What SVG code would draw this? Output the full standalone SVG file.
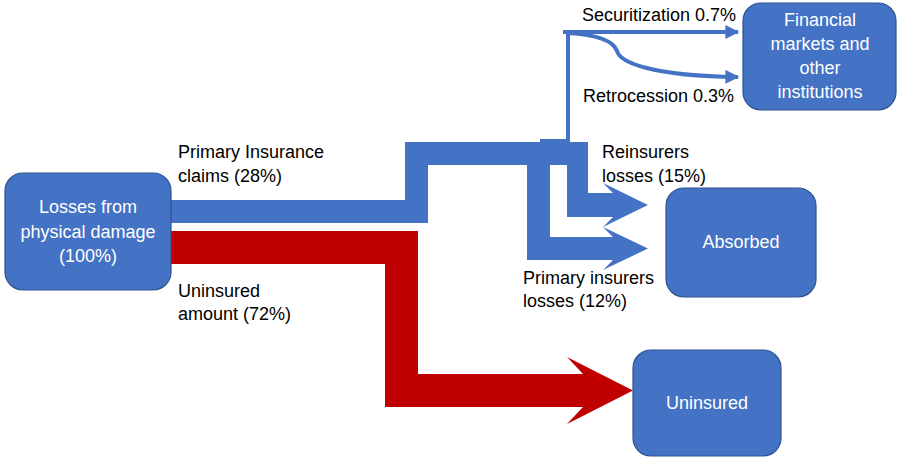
<svg xmlns="http://www.w3.org/2000/svg" width="899" height="457" viewBox="0 0 899 457">
<defs>
<style>
.node{fill:#4472C4;stroke:#2F528F;stroke-width:1.2}
.nt{font-family:"Liberation Sans",Arial,sans-serif;font-size:18px;fill:#FFFFFF;text-anchor:middle}
.lbl{font-family:"Liberation Sans",Arial,sans-serif;font-size:18px;fill:#000000}
.blue{fill:#4472C4}
.red{fill:#C00000}
.thin{fill:none;stroke:#4472C4;stroke-width:4}
</style>
<marker id="ah" viewBox="0 0 10 10" refX="9" refY="5" markerWidth="4.5" markerHeight="3.5" markerUnits="strokeWidth" orient="auto">
<path d="M0,0 L10,5 L0,10 z" fill="#4472C4"/>
</marker>
</defs>
<g id="connectors">
<!-- red uninsured flow -->
<path class="red" d="M171,231 L418,231 L418,374 L583,374 L567,357 L633,390.5 L567,424 L583,407 L385,407 L385,264 L171,264 Z"/>
<!-- blue primary insurance flow -->
<path class="blue" d="M171,200 L405,200 L405,142 L588,142 L588,193 L613,193 L603,183 L648,205 L603,227 L613,217 L567,217 L567,165 L550,165 L550,237 L613,237 L603,227 L648,248.5 L603,270 L613,260 L527,260 L527,165 L428,165 L428,223 L171,223 Z"/>
<rect class="blue" x="540" y="139" width="27" height="4"/>
<!-- thin lines to financial markets -->
<path class="thin" d="M568,142 L568,32"/>
<path class="thin" d="M563,32 L738,32" marker-end="url(#ah)"/>
<path class="thin" d="M568,33 C600,35 614,42 617,51 C620,62 650,76 738,77" marker-end="url(#ah)"/>
</g>
<g id="node-losses">
<rect class="node" x="5" y="173" width="166" height="117" rx="18"/>
<text class="nt" x="88" y="213">Losses from</text>
<text class="nt" x="88" y="238">physical damage</text>
<text class="nt" x="88" y="262">(100%)</text>
</g>
<g id="node-financial">
<rect class="node" x="743" y="3" width="153" height="107" rx="18"/>
<text class="nt" x="820" y="26">Financial</text>
<text class="nt" x="820" y="50">markets and</text>
<text class="nt" x="820" y="74">other</text>
<text class="nt" x="820" y="98">institutions</text>
</g>
<g id="node-absorbed">
<rect class="node" x="666" y="188" width="150" height="109" rx="18"/>
<text class="nt" x="741" y="248">Absorbed</text>
</g>
<g id="node-uninsured">
<rect class="node" x="633" y="350" width="148" height="106" rx="18"/>
<text class="nt" x="707" y="409">Uninsured</text>
</g>
<g id="labels">
<text class="lbl" x="582" y="21">Securitization 0.7%</text>
<text class="lbl" x="583" y="102">Retrocession 0.3%</text>
<text class="lbl" x="178" y="158">Primary Insurance</text>
<text class="lbl" x="178" y="182">claims (28%)</text>
<text class="lbl" x="602" y="158">Reinsurers</text>
<text class="lbl" x="602" y="182">losses (15%)</text>
<text class="lbl" x="523" y="284">Primary insurers</text>
<text class="lbl" x="523" y="307">losses (12%)</text>
<text class="lbl" x="178" y="297">Uninsured</text>
<text class="lbl" x="178" y="320">amount (72%)</text>
</g>
</svg>
